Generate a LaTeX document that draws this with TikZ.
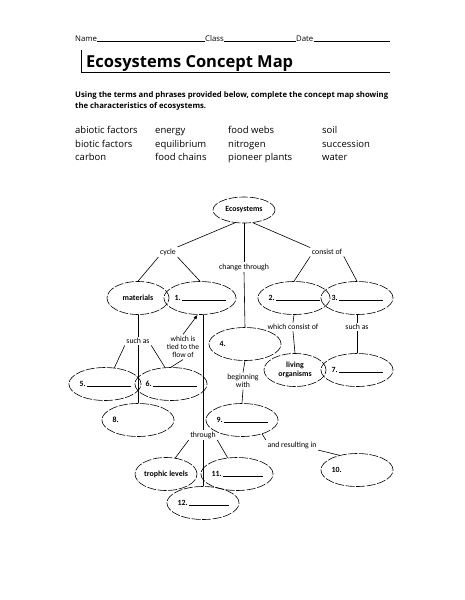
\documentclass[tikz,border=0pt]{standalone}
\usepackage{fontspec}
\setmainfont{Carlito}
\newfontfamily\hand{Open Sans}
\usetikzlibrary{shapes.geometric,arrows.meta}
\newcommand\numblank[1]{\makebox[51pt][l]{#1~\hrulefill}}
\newcommand\numonly[1]{\makebox[51pt][l]{#1}}
\tikzset{
  ell/.style={draw, ellipse, dash pattern=on 9pt off 1.6pt, line width=0.6pt,
    minimum width=62pt, minimum height=33pt, inner sep=0pt,
    font=\fontsize{7.9}{8.8}\selectfont\bfseries},
  lab/.style={inner sep=1.5pt, font=\fontsize{7.8}{8.2}\selectfont, align=center},
  conn/.style={line width=0.6pt},
  hdr/.style={anchor=base west, inner sep=0pt, font=\hand\fontsize{7.8}{9}\selectfont},
  word/.style={anchor=base west, inner sep=0pt, font=\hand\fontsize{9.5}{11}\selectfont}
}
\begin{document}
\begin{tikzpicture}[x=1pt,y=-1pt]
\useasboundingbox[fill=white] (0,0) rectangle (464,600);
% header
\node[hdr] (hname) at (75,41) {Name};
\node[hdr] (hclass) at (205,41) {Class};
\node[hdr] (hdate) at (296,41) {Date};
\draw[line width=0.5pt] (hname.base east) -- (hclass.base west);
\draw[line width=0.5pt] (hclass.base east) -- (hdate.base west);
\draw[line width=0.5pt] (hdate.base east) -- (390,41);
\node[anchor=base west, inner sep=0pt, font=\hand\bfseries\fontsize{16.5}{19}\selectfont] (title) at (86,67) {Ecosystems Concept Map};
\draw[line width=1.4pt] (81.5,50) -- (81.5,73);
\draw[line width=0.7pt] (81.5,72.5) -- (390,72.5);
\node[anchor=west, inner sep=0pt, align=left, font=\hand\bfseries\fontsize{7.75}{11.5}\selectfont] (instr) at (75,101)
  {Using the terms and phrases provided below, complete the concept map showing\\the characteristics of ecosystems.};
% word list
\node[word] (w1) at (75,133.5) {abiotic factors};
\node[word] (w2) at (75,147) {biotic factors};
\node[word] (w3) at (75,160.5) {carbon};
\node[word] (w4) at (155,133.5) {energy};
\node[word] (w5) at (155,147) {equilibrium};
\node[word] (w6) at (155,160.5) {food chains};
\node[word] (w7) at (228,133.5) {food webs};
\node[word] (w8) at (228,147) {nitrogen};
\node[word] (w9) at (228,160.5) {pioneer plants};
\node[word] (w10) at (322,133.5) {soil};
\node[word] (w11) at (322,147) {succession};
\node[word] (w12) at (322,160.5) {water};
% concept map nodes
\node[ell, minimum height=26pt] (eco) at (244,210) {Ecosystems};
\node[lab] (cyc) at (168,252) {cycle};
\node[lab] (chg) at (244,267) {change through};
\node[lab] (con) at (327,252) {consist of};
\node[ell] (mat) at (138,298) {materials};
\node[ell] (n1) at (200,298) {\numblank{1.}};
\node[ell] (n2) at (294,298) {\numblank{2.}};
\node[ell] (n3) at (357,298) {\numblank{3.}};
\node[lab] (such1) at (138,341) {such as};
\node[lab, font=\fontsize{7.6}{8.2}\selectfont] (tied) at (183,347) {which is\\tied to the\\flow of};
\node[ell] (n4) at (245,344) {\numonly{4.}};
\node[lab] (wco) at (293,327) {which consist of};
\node[lab] (such2) at (357,327) {such as};
\node[ell, align=center] (liv) at (295,370) {living\\organisms};
\node[ell] (n7) at (357,370) {\numblank{7.}};
\node[ell] (n5) at (105,384) {\numblank{5.}};
\node[ell] (n6) at (171,384) {\numblank{6.}};
\node[ell] (n8) at (138,420) {\numonly{8.}};
\node[lab] (beg) at (243,381) {beginning\\with};
\node[ell] (n9) at (242,420) {\numblank{9.}};
\node[lab] (thr) at (203,435) {through};
\node[ell] (trop) at (166,474) {trophic levels};
\node[ell] (n11) at (237,474) {\numblank{11.}};
\node[ell] (n12) at (203,503) {\numblank{12.}};
\node[lab] (res) at (292,445) {and resulting in};
\node[ell] (n10) at (357,470) {\numonly{10.}};
% connectors
\draw[conn] (eco.235) -- (cyc.north east);
\draw[conn] (eco.south) -- (chg.north);
\draw[conn] (chg.south) -- (n4.north);
\draw[conn] (eco.305) -- (con.north west);
\draw[conn] (cyc.south west) -- (mat.north);
\draw[conn] (cyc.south east) -- (n1.north);
\draw[conn] (con.south west) -- (n2.north);
\draw[conn] (con.south east) -- (n3.north);
\draw[conn] (mat.south) -- (such1.north);
\draw[conn] (such1.south west) -- (n5.60);
\draw[conn] (such1.south east) -- (n6.110);
\draw[conn] (such1.south) -- (n8.north);
\draw[conn] (n6.north) -- (tied.south);
\draw[conn, -{Latex[length=4.5pt,width=3.5pt]}] (tied.north) -- (n1.262);
\draw[conn] (n1.south -| thr) -- (thr.north);
\draw[conn] (thr.south) -- (n12.north);
\draw[conn] (thr.south west) -- (trop.60);
\draw[conn] (thr.south east) -- (n11.120);
\draw[conn] (n2.south) -- (wco.north);
\draw[conn] (wco.south) -- (liv.north);
\draw[conn] (n3.south) -- (such2.north);
\draw[conn] (such2.south) -- (n7.north);
\draw[conn] (n4.south) -- (beg.north);
\draw[conn] (beg.south) -- (n9.north);
\draw[conn] (n9.-35) -- (res.north west);
\draw[conn] (res.south east) -- (n10.140);
\end{tikzpicture}
\end{document}
